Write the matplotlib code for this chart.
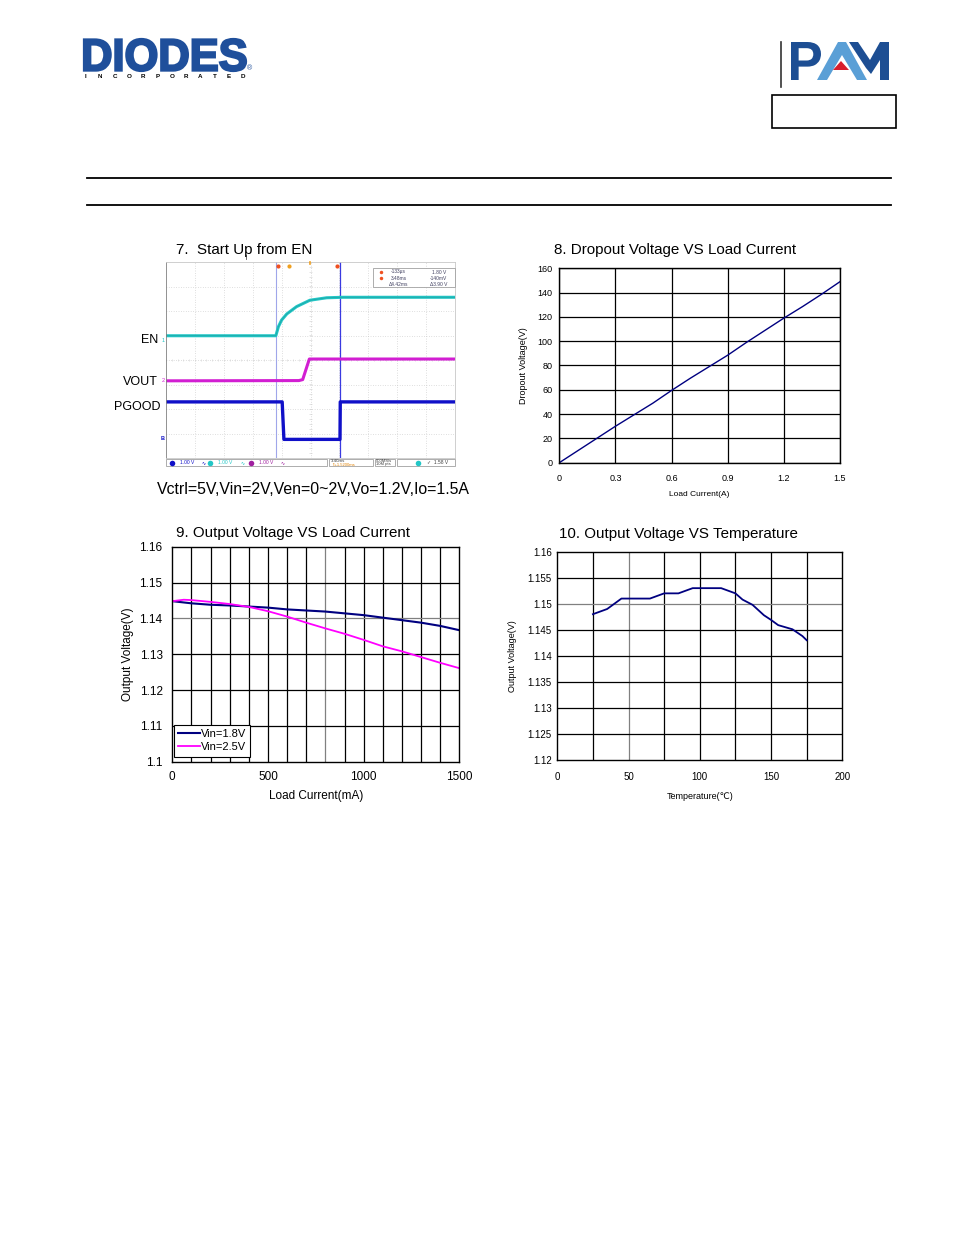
import numpy as np
import matplotlib
matplotlib.use("Agg")
import matplotlib.pyplot as plt
from matplotlib.textpath import TextPath
from matplotlib.patches import PathPatch, Rectangle, Polygon
from matplotlib.transforms import Affine2D
from matplotlib.font_manager import FontProperties

W, H = 954, 1235
plt.rcParams['font.family'] = ['Liberation Sans', 'DejaVu Sans']
NARROW = ['Liberation Sans Narrow', 'Liberation Sans', 'DejaVu Sans']

# 7. scope traces, screen divisions (x 0..10, y -4..4)
en_x = [0, 3.80, 3.89, 4.00, 4.18, 4.52, 4.98, 5.56, 6.13, 10]
en_y = [0.99, 0.99, 1.36, 1.63, 1.88, 2.18, 2.44, 2.54, 2.56, 2.56]
vout_x = [0, 4.60, 4.73, 4.96, 10]
vout_y = [-0.85, -0.84, -0.80, 0.04, 0.04]
pg_x = [0, 4.02, 4.08, 6.02, 6.03, 10]
pg_y = [-1.71, -1.71, -3.24, -3.24, -1.71, -1.71]
cursor_a, cursor_b = 3.80, 6.02

# 8. dropout voltage vs load current
load_a = [0, 0.05, 0.1, 0.2, 0.3, 0.4, 0.5, 0.6, 0.7, 0.8, 0.9, 1.0, 1.1, 1.2, 1.3, 1.4, 1.5]
dropout = [0, 5, 10, 20, 30, 39.5, 49, 59.5, 69.5, 79, 88.5, 99, 109, 119, 128.5, 138.5, 149]
x8_ticks = [0, 0.3, 0.6, 0.9, 1.2, 1.5]
x8_labels = ['0', '0.3', '0.6', '0.9', '1.2', '1.5']
y8_ticks = [0, 20, 40, 60, 80, 100, 120, 140, 160]

# 9. output voltage vs load current
load_ma = [0, 100, 200, 300, 400, 500, 600, 700, 800, 900, 1000, 1100, 1200, 1300, 1400, 1500]
vout_18 = [1.1448, 1.1442, 1.1438, 1.1436, 1.1433, 1.1430, 1.1425, 1.1422, 1.1419, 1.1414,
           1.1409, 1.1402, 1.1395, 1.1388, 1.1379, 1.1367]
load_ma_25 = [0, 60, 100, 200, 300, 400, 500, 600, 700, 800, 900, 1000, 1100, 1200, 1300, 1400, 1500]
vout_25 = [1.1448, 1.1452, 1.1451, 1.1446, 1.1440, 1.1432, 1.1420, 1.1405, 1.1388, 1.1372,
           1.1357, 1.1340, 1.1322, 1.1308, 1.1292, 1.1276, 1.1261]
y9_labels = ['1.1', '1.11', '1.12', '1.13', '1.14', '1.15', '1.16']

# 10. output voltage vs temperature
temp_c = [25, 35, 45, 65, 75, 85, 95, 115, 125, 130, 137, 145, 150, 155, 165, 172, 175]
vout_t = [1.148, 1.149, 1.151, 1.151, 1.152, 1.152, 1.153, 1.153, 1.152, 1.1508, 1.1498,
          1.1478, 1.1469, 1.1459, 1.1451, 1.1438, 1.143]
y10_labels = ['1.12', '1.125', '1.13', '1.135', '1.14', '1.145', '1.15', '1.155', '1.16']


def rect(x0, y0, x1, y1):
    return [x0 / W, 1 - y1 / H, (x1 - x0) / W, (y1 - y0) / H]


def fit_text(ax, s, x0, y0, x1, y1, color, weight='bold', stroke=0):
    tp = TextPath((0, 0), s, size=100, prop=FontProperties(family='Liberation Sans', weight=weight))
    bb = tp.get_extents()
    tr = (Affine2D().translate(-bb.x0, -bb.y0)
          .scale((x1 - x0) / bb.width, -(y1 - y0) / bb.height)
          .translate(x0, y1))
    ax.add_patch(PathPatch(tr.transform_path(tp), facecolor=color,
                           edgecolor=color if stroke else 'none', lw=stroke, joinstyle='miter'))


def grid_lines(ax, xs, ys, gray_x=None, gray_y=None):
    for v in xs:
        ax.axvline(v, color='#808080' if v == gray_x else 'black', lw=0.9, zorder=1)
    for v in ys:
        ax.axhline(v, color='#808080' if v == gray_y else 'black', lw=0.9, zorder=1)


fig = plt.figure(figsize=(W / 100, H / 100), dpi=100)

# ---- 7. scope capture
ax7 = fig.add_axes(rect(166, 262, 455, 458))
ax7.set_xlim(0, 10)
ax7.set_ylim(-4, 4)
ax7.set_xticks([])
ax7.set_yticks([])
for i in range(1, 10):
    ax7.axvline(i, color='#c0c0c0', lw=0.5, ls=(0, (1, 2.5)))
for j in range(-3, 4):
    ax7.axhline(j, color='#c0c0c0', lw=0.5, ls=(0, (1, 2.5)))
ax7.vlines(np.arange(0, 10.01, 0.2), -0.05, 0.05, color='#d0d0d0', lw=0.4)
ax7.hlines(np.arange(-4, 4.01, 0.2), 4.95, 5.05, color='#d0d0d0', lw=0.4)
for s in ax7.spines.values():
    s.set_color('#c8c8c8')
    s.set_linewidth(0.6)
ax7.spines['left'].set_color('#808080')
ax7.axvline(cursor_a, color='#a0a6ea', lw=0.8)
ax7.axvline(cursor_b, color='#3a3ae0', lw=0.9)
ax7.plot(en_x, en_y, color='#22c6c6', lw=2.2, solid_joinstyle='round')
ax7.plot(en_x, en_y, color='#157070', lw=0.6, alpha=0.35)
ax7.plot(vout_x, vout_y, color='#d21ed2', lw=2.2)
ax7.plot(pg_x, pg_y, color='#1010c8', lw=2.4)

# ---- 8. dropout voltage
ax8 = fig.add_axes(rect(559.3, 268.3, 840, 462.7))
ax8.plot(load_a, dropout, color='#000080', lw=1.0, zorder=3)
ax8.set_xlim(0, 1.5)
ax8.set_ylim(0, 160)
grid_lines(ax8, x8_ticks, y8_ticks)
ax8.set_xticks(x8_ticks, x8_labels)
ax8.set_yticks(y8_ticks)
ax8.tick_params(length=0, labelsize=6.5, pad=5)
ax8.tick_params(axis='x', pad=8)
ax8.set_xlabel('Load Current(A)', fontsize=6, labelpad=6)
ax8.set_ylabel('Dropout Voltage(V)', fontsize=6.5, labelpad=7)

# ---- 9. output voltage vs load current
ax9 = fig.add_axes(rect(172.3, 546.7, 459.3, 761.7))
ax9.plot(load_ma, vout_18, color='#000080', lw=1.5, label='Vin=1.8V', zorder=3)
ax9.plot(load_ma_25, vout_25, color='#ff00ff', lw=1.3, label='Vin=2.5V', zorder=3)
ax9.set_xlim(0, 1500)
ax9.set_ylim(1.1, 1.16)
grid_lines(ax9, np.arange(100, 1500, 100), np.round(np.arange(1.11, 1.16, 0.01), 2),
           gray_x=800, gray_y=1.14)
ax9.set_xticks([0, 500, 1000, 1500])
ax9.set_yticks(np.round(np.arange(1.1, 1.161, 0.01), 2), y9_labels)
ax9.tick_params(length=0, labelsize=8.5, pad=7)
ax9.set_xlabel('Load Current(mA)', fontsize=8.5, labelpad=5)
ax9.set_ylabel('Output Voltage(V)', fontsize=8.5, labelpad=4)
leg = ax9.legend(loc='lower left', bbox_to_anchor=(0.006, 0.023), borderaxespad=0,
                 fontsize=8, handlelength=1.9, handletextpad=0.1, borderpad=0.4,
                 labelspacing=0.3, fancybox=False, framealpha=1, edgecolor='black')
leg.get_frame().set_linewidth(0.8)

# ---- 10. output voltage vs temperature
ax10 = fig.add_axes(rect(557.3, 551.7, 842.3, 760))
ax10.plot(temp_c, vout_t, color='#000080', lw=1.3, zorder=3)
ax10.set_xlim(0, 200)
ax10.set_ylim(1.12, 1.16)
grid_lines(ax10, np.arange(25, 200, 25), np.round(np.arange(1.125, 1.16, 0.005), 3),
           gray_x=50, gray_y=1.15)
ax10.set_xticks([0, 50, 100, 150, 200])
ax10.set_yticks(np.round(np.arange(1.12, 1.1601, 0.005), 3), y10_labels)
ax10.tick_params(length=0, labelsize=7, pad=4)
ax10.tick_params(axis='x', pad=9)
for lab in ax10.get_xticklabels() + ax10.get_yticklabels():
    lab.set_family(NARROW)
ax10.set_xlabel('Temperature(\u2103)', fontsize=6.5, labelpad=7, family=NARROW)
ax10.set_ylabel('Output Voltage(V)', fontsize=6.5, labelpad=8)

for ax in (ax8, ax9, ax10):
    for s in ax.spines.values():
        s.set_linewidth(1.0)
        s.set_zorder(4)

# ---- page decorations in pixel coordinates
axp = fig.add_axes([0, 0, 1, 1])
axp.set_xlim(0, W)
axp.set_ylim(H, 0)
axp.axis('off')

fit_text(axp, 'DIODES', 84, 39, 246, 71, '#1f4f9b', stroke=1.6)
for i, ch in enumerate('INCORPORATED'):
    axp.text(86 + i * 14.3, 77, ch, fontsize=4.5, fontweight='bold', ha='center', va='center')
axp.text(250, 69, '\u00ae', fontsize=5, color='#1f4f9b', ha='center', va='center')

axp.plot([781, 781], [42, 87], color='#333333', lw=1.2)
fit_text(axp, 'P', 791, 42, 821, 80, '#1d4e93')
axp.add_patch(Polygon([(817, 80), (838, 42), (846, 42), (867, 80), (857, 80), (842, 55), (827, 80)],
                      facecolor='#5a9fd6', edgecolor='none'))
axp.add_patch(Polygon([(841, 61), (833, 70), (849, 70)], facecolor='#d81e2c', edgecolor='none'))
axp.add_patch(Polygon([(849, 42), (858, 42), (870, 60), (880, 42), (889, 42), (889, 80), (880, 80),
                       (880, 60), (871, 74), (866, 68)], facecolor='#1d4e93', edgecolor='none'))
axp.add_patch(Rectangle((772, 95), 124, 33, facecolor='none', edgecolor='black', lw=1.2))

axp.plot([87, 891], [178, 178], color='black', lw=1.3)
axp.plot([87, 891], [205, 205], color='black', lw=1.3)

axp.text(176, 250, '7.  Start Up from EN', fontsize=10.9, ha='left', va='center')
axp.text(554, 250, '8. Dropout Voltage VS Load Current', fontsize=10.9, ha='left', va='center')
axp.text(313, 490, 'Vctrl=5V,Vin=2V,Ven=0~2V,Vo=1.2V,Io=1.5A', fontsize=11.4, ha='center', va='center')
axp.text(176, 533, '9. Output Voltage VS Load Current', fontsize=10.9, ha='left', va='center')
axp.text(559, 534, '10. Output Voltage VS Temperature', fontsize=10.9, ha='left', va='center')

axp.text(158, 340, 'EN', fontsize=9, ha='right', va='center')
axp.text(158, 382, 'VOUT', fontsize=9, ha='right', va='center')
axp.text(161, 407, 'PGOOD', fontsize=9, ha='right', va='center')
axp.text(163, 340, '1', fontsize=4, color='#22c6c6', ha='center', va='center')
axp.text(163, 381, '2', fontsize=4, color='#d21ed2', ha='center', va='center')
axp.text(163, 438, 'B', fontsize=4, color='#1010c8', ha='center', va='center', fontweight='bold')
axp.plot([246, 246], [255, 259], color='#555555', lw=0.6)

# scope cursor markers and readout
for x, c in [(277.7, '#f05020'), (289, '#f0a020'), (336.7, '#f05020')]:
    axp.plot(x, 266, 'o', color=c, ms=3, mec='none')
axp.plot([310, 310], [262, 264], color='#f0a020', lw=1.2)
axp.add_patch(Rectangle((373, 268), 82, 19, facecolor='white', edgecolor='#a0a0a0', lw=0.6))
axp.plot([381, 381], [272, 278], 'o', color='#f05020', ms=2.5, mec='none')
for x, y, s in [(391, 272, '-133\u00b5s'), (432, 272, '1.80 V'), (391, 278, '3.48ms'),
                (430, 278, '-140mV'), (389, 284, '\u03944.42ms'), (430, 284, '\u03943.90 V')]:
    axp.text(x, y, s, fontsize=3.5, color='#404060', ha='left', va='center')

# scope status bar
axp.add_patch(Rectangle((166, 459), 161, 7, facecolor='white', edgecolor='#a0a0a0', lw=0.6))
for x, c in [(171.7, '#1010c8'), (210, '#22c6c6'), (250.7, '#a020a0')]:
    axp.plot(x, 462.5, 'o', color=c, ms=4, mec='none')
    axp.text(x + 8, 462.5, '1.00 V', fontsize=3.5, color=c, ha='left', va='center')
    axp.text(x + 30, 462.5, '\u223f', fontsize=3.5, color=c, ha='left', va='center')
axp.add_patch(Rectangle((329, 459), 44, 7, facecolor='white', edgecolor='#a0a0a0', lw=0.6))
axp.text(331, 460.8, '3.40ms', fontsize=3.2, color='#404040', ha='left', va='center')
axp.text(331, 464.5, '\u21d1+1.5200ms', fontsize=3, color='#e08000', ha='left', va='center')
axp.add_patch(Rectangle((375, 459), 20, 7, facecolor='white', edgecolor='#a0a0a0', lw=0.6))
axp.text(376, 460.8, '500MS/s', fontsize=3, color='#404040', ha='left', va='center')
axp.text(376, 464.5, '10M pts', fontsize=3, color='#404040', ha='left', va='center')
axp.add_patch(Rectangle((397, 459), 58, 7, facecolor='white', edgecolor='#a0a0a0', lw=0.6))
axp.plot(418, 462.5, 'o', color='#22c6c6', ms=4, mec='none')
axp.text(427, 462.5, '\u2713  1.58 V', fontsize=3.5, color='#404040', ha='left', va='center')

fig.savefig('out.png', dpi=100)
